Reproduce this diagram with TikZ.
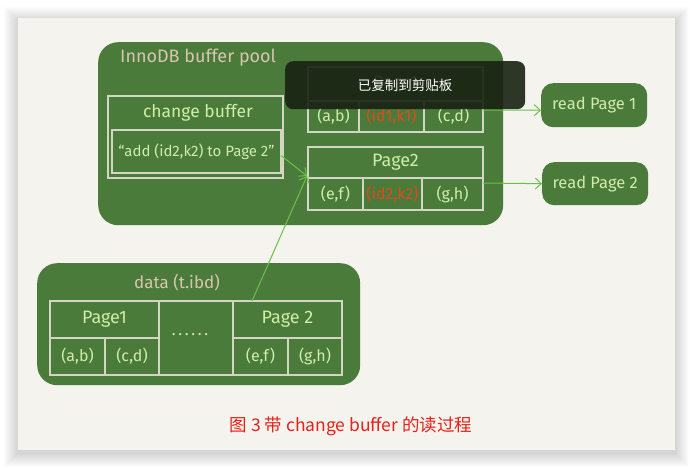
\documentclass[tikz,border=0pt]{standalone}
\usepackage{fontspec}
\setmainfont{Fira Sans}
\newfontfamily\cjk{Noto Sans CJK SC}
\usetikzlibrary{arrows.meta}
\definecolor{bg}{HTML}{F4F3EE}
\definecolor{gr}{HTML}{4B7B3B}
\definecolor{ln}{HTML}{D2D6C2}
\definecolor{txt}{HTML}{CFEDA8}
\definecolor{tanc}{HTML}{D7C6AE}
\definecolor{redc}{HTML}{DD4A1C}
\definecolor{arr}{HTML}{6CC04A}
\definecolor{cap}{HTML}{E8201A}
\definecolor{toastc}{HTML}{182212}
\tikzset{
  cell/.style={draw=ln, line width=1.1pt, anchor=north west, inner sep=0pt, outer sep=0pt,
    text=txt, font=\fontsize{16}{18}\selectfont},
  hdr/.style={cell, font=\fontsize{18}{20}\selectfont},
  gbox/.style={fill=gr, rounded corners=20pt, draw=none},
  rbox/.style={fill=gr, rounded corners=12pt, draw=none, text=txt, inner sep=0pt,
    font=\fontsize{16.5}{18}\selectfont},
  ttl/.style={text=tanc, font=\fontsize{18}{20}\selectfont},
  conn/.style={draw=arr, line width=1pt, -{Straight Barb[length=6pt,width=11pt]}},
}
\begin{document}
\begin{tikzpicture}[x=1pt,y=-1pt]
\useasboundingbox (0,0) rectangle (693,468);
\fill[white] (0,0) rectangle (693,468);
% card shadow
\foreach \i in {14,13,...,1}{
  \fill[black, opacity=0.012] (18-\i,21-\i) rectangle (675+\i,453+\i);
}
\fill[bg] (18,18) rectangle (675,450);

% buffer pool
\node[gbox, minimum width=405pt, minimum height=183pt, anchor=north west] (pool) at (98,42) {};
\node[ttl, anchor=west, inner sep=0pt] (pooltitle) at (120,58) {InnoDB buffer pool};

% change buffer
\node[cell, minimum width=175pt, minimum height=82pt] (cb) at (108,96) {};
\node[text=txt, font=\fontsize{17.5}{19}\selectfont] (cbtitle) at (198,113) {change buffer};
\node[cell, minimum width=169pt, minimum height=43pt, font=\fontsize{15}{17}\selectfont] (cbin) at (112,130) {``add (id2,k2) to Page 2''};

% Page 1 in pool
\node[hdr, minimum width=175pt, minimum height=34pt] (p1h) at (308,67) {Page1};
\node[cell, minimum width=51pt, minimum height=31pt] (p1a) at (308,101) {(a,b)};
\node[cell, minimum width=65pt, minimum height=31pt, text=redc] (p1b) at (359,101) {(id1,k1)};
\node[cell, minimum width=59pt, minimum height=31pt] (p1c) at (424,101) {(c,d)};

% Page 2 in pool
\node[hdr, minimum width=175pt, minimum height=31pt] (p2h) at (308,147) {Page2};
\node[cell, minimum width=55pt, minimum height=32pt] (p2a) at (308,178) {(e,f)};
\node[cell, minimum width=59pt, minimum height=32pt, text=redc] (p2b) at (363,178) {(id2,k2)};
\node[cell, minimum width=61pt, minimum height=32pt] (p2c) at (422,178) {(g,h)};

% read boxes
\node[rbox, minimum width=106pt, minimum height=44pt, anchor=north west] (read1) at (541,83) {read Page 1};
\node[rbox, minimum width=106pt, minimum height=43pt, anchor=north west] (read2) at (542,162) {read Page 2};

% data file
\node[gbox, minimum width=323pt, minimum height=122pt, anchor=north west] (data) at (37,263) {};
\node[ttl, font=\fontsize{17}{19}\selectfont] (datatitle) at (177,283) {data (t.ibd)};
\node[hdr, minimum width=109pt, minimum height=37pt] (d1h) at (50,301) {Page1};
\node[cell, minimum width=55pt, minimum height=37pt] (d1a) at (50,338) {(a,b)};
\node[cell, minimum width=54pt, minimum height=37pt] (d1b) at (105,338) {(c,d)};
\node[cell, minimum width=74pt, minimum height=74pt] (dmid) at (159,301) {};
\node[text=txt, font=\fontsize{16}{18}\selectfont] (dots) at (190,335) {.\,.\,.\,.\,.\,.};
\node[hdr, minimum width=109pt, minimum height=37pt] (d2h) at (233,301) {Page 2};
\node[cell, minimum width=55pt, minimum height=37pt] (d2a) at (233,338) {(e,f)};
\node[cell, minimum width=54pt, minimum height=37pt] (d2b) at (288,338) {(g,h)};

% connectors
\draw[conn] ([yshift=-4pt]cbin.east) -- ([xshift=-1pt,yshift=2pt]p2h.south west);
\draw[conn] ([xshift=19pt]d2h.north west) -- ([xshift=-1pt,yshift=2pt]p2h.south west);
\draw[conn] ([yshift=6.5pt]p1c.east) -- ([yshift=-5pt]read1.west);
\draw[conn] ([yshift=11pt]p2c.east) -- (read2.west);

% toast overlay
\node[fill=toastc, fill opacity=0.9, text opacity=1, text=white, rounded corners=8pt,
  minimum width=240pt, minimum height=48pt, anchor=north west, inner sep=0pt,
  font=\cjk\fontsize{13.5}{15}\selectfont] (toast) at (285,61) {已复制到剪贴板};

% caption
\node[text=cap, font=\cjk\fontsize{17.5}{20}\selectfont] (caption) at (351,426) {图 3 带 change buffer 的读过程};
\end{tikzpicture}
\end{document}
